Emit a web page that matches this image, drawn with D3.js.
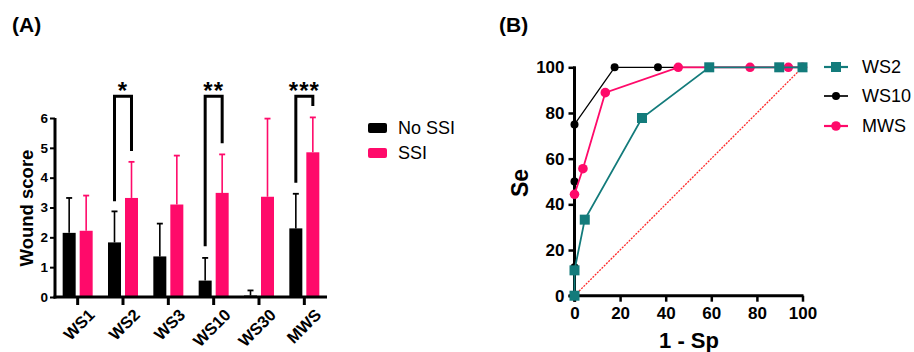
<!DOCTYPE html>
<html><head><meta charset="utf-8">
<script src="https://cdn.jsdelivr.net/npm/d3@7"></script>
<style>body{margin:0;background:#fff}svg{display:block;font-family:"Liberation Sans",Arial,sans-serif}</style>
</head><body><svg id="c" width="914" height="352"></svg>
<script>
// ---- Panel A data ----
const categories = ["WS1","WS2","WS3","WS10","WS30","MWS"];
const groups = ["No SSI","SSI"];
const noSsiMean = [2.15,1.83,1.36,0.55,0.05,2.30];
const noSsiSd   = [1.17,1.04,1.10,0.76,0.17,1.16];
const ssiMean   = [2.22,3.32,3.10,3.49,3.36,4.85];
const ssiSd     = [1.18,1.21,1.64,1.29,2.62,1.17];
const yTicksA   = [0,1,2,3,4,5,6];
const sigCats   = ["WS2","WS10","MWS"];
const sigLabels = ["*","**","***"];
const bracketLeft  = [3.21,1.70,3.83];
const bracketRight = [4.89,5.15,6.40];
const bracketTop   = 6.73;

// ---- Panel B data ----
const rocSeries = ["WS2","WS10","MWS"];
const ws2X  = [0,0,4.5,29.6,59.1,89.8,100];
const ws2Y  = [0,11.1,33.3,77.8,100,100,100];
const ws10X = [0,0,0,0,17.6,36.6,100];
const ws10Y = [0,12.5,50,75,100,100,100];
const mwsX  = [0,3.7,13.5,45.5,77,93.8,100];
const mwsY  = [44.4,55.6,88.9,100,100,100,100];
const rocTicks = [0,20,40,60,80,100];

const PINK = "#ff0a6a", TEAL = "#137b7b", BLACK = "#000";
const svg = d3.select("#c");
svg.append("rect").attr("width",914).attr("height",352).attr("fill","#fff");

// ================= Panel A =================
const x0 = d3.scaleBand().domain(categories).range([55,327]).padding(0);
const x1 = d3.scaleBand().domain(groups)
  .range([x0.bandwidth()/2-15, x0.bandwidth()/2+15]).paddingInner(0.235).paddingOuter(0);
const yA = d3.scaleLinear().domain([0,6]).range([297,118]);
const colorA = d3.scaleOrdinal().domain(groups).range([BLACK,PINK]);

svg.append("text").attr("x",12).attr("y",32).attr("font-size",21).attr("font-weight","bold").text("(A)");

const rows = categories.map((c,i)=>[
  {cat:c,g:"No SSI",m:noSsiMean[i],sd:noSsiSd[i]},
  {cat:c,g:"SSI",m:ssiMean[i],sd:ssiSd[i]}]).flat();

const gA = svg.append("g");
gA.selectAll("g.err").data(rows).join("g").each(function(d){
  const cx = x0(d.cat)+x1(d.g)+x1.bandwidth()/2;
  const g = d3.select(this);
  g.append("line").attr("x1",cx).attr("x2",cx).attr("y1",yA(d.m)).attr("y2",yA(d.m+d.sd))
    .attr("stroke",colorA(d.g)).attr("stroke-width",1.6);
  g.append("line").attr("x1",cx-3).attr("x2",cx+3).attr("y1",yA(d.m+d.sd)).attr("y2",yA(d.m+d.sd))
    .attr("stroke",colorA(d.g)).attr("stroke-width",1.8);
});
gA.selectAll("rect.bar").data(rows).join("rect")
  .attr("x",d=>x0(d.cat)+x1(d.g)).attr("width",x1.bandwidth())
  .attr("y",d=>yA(d.m)).attr("height",d=>yA(0)-yA(d.m))
  .attr("fill",d=>colorA(d.g));

const axYA = svg.append("g").attr("transform","translate(55,0)")
  .call(d3.axisLeft(yA).tickValues(yTicksA).tickFormat(d3.format("d")).tickSize(5).tickPadding(2));
axYA.select(".domain").attr("stroke-width",3).attr("d",`M0,${yA(6)}V${yA(0)+1.5}`);
axYA.selectAll(".tick line").attr("stroke-width",2);
axYA.selectAll(".tick text").attr("font-size",13.5).attr("font-weight","bold").attr("font-family","Liberation Sans, Arial, sans-serif");

const axXA = svg.append("g").attr("transform",`translate(0,${yA(0)})`)
  .call(d3.axisBottom(x0).tickSize(8).tickPadding(4));
axXA.select(".domain").attr("stroke-width",3).attr("d","M53.5,0H327");
axXA.selectAll(".tick line").attr("stroke-width",3);
axXA.selectAll(".tick text").attr("font-size",16.5).attr("font-weight","bold")
  .attr("font-family","Liberation Sans, Arial, sans-serif")
  .attr("text-anchor","end").attr("dy",null).attr("y",null)
  .attr("transform","translate(18,19) rotate(-45)");

svg.append("text").attr("transform","translate(33,208) rotate(-90)").attr("text-anchor","middle")
  .attr("font-size",18.5).attr("font-weight","bold").text("Wound score");

sigCats.forEach((c,i)=>{
  const xl = x0(c)+x1("No SSI")+x1.bandwidth()/2;
  const xr = x0(c)+x1("SSI")+x1.bandwidth()/2;
  svg.append("path").attr("fill","none").attr("stroke","#000").attr("stroke-width",3)
    .attr("d",`M${xl},${yA(bracketLeft[i])}V${yA(bracketTop)}H${xr}V${yA(bracketRight[i])}`);
  svg.append("text").attr("x",(xl+xr)/2).attr("y",99).attr("text-anchor","middle")
    .attr("font-size",24).attr("font-weight","bold").attr("letter-spacing",1).text(sigLabels[i]);
});

groups.forEach((g,i)=>{
  svg.append("rect").attr("x",368).attr("y",123+i*25).attr("width",19).attr("height",10).attr("rx",2)
    .attr("fill",colorA(g));
  svg.append("text").attr("x",398).attr("y",128+i*25).attr("dy","0.36em").attr("font-size",18).text(g);
});

// ================= Panel B =================
const xB = d3.scaleLinear().domain([0,100]).range([574.5,802.5]);
const yB = d3.scaleLinear().domain([0,100]).range([295.7,67.3]);

svg.append("text").attr("x",499).attr("y",32).attr("font-size",21).attr("font-weight","bold").text("(B)");

svg.append("line").attr("x1",xB(0)).attr("y1",yB(0)).attr("x2",xB(100)).attr("y2",yB(100))
  .attr("stroke","#ff2a2a").attr("stroke-width",1.3).attr("stroke-dasharray","2,1.2");

const axXB = svg.append("g").attr("transform",`translate(0,${yB(0)})`)
  .call(d3.axisBottom(xB).tickValues(rocTicks).tickSize(6).tickPadding(5));
axXB.select(".domain").attr("stroke-width",3).attr("d",`M${xB(0)-6},0H${xB(100)+1}`);
axXB.selectAll(".tick line").attr("stroke-width",2.5);
axXB.selectAll(".tick text").attr("font-size",17).attr("font-weight","bold").attr("font-family","Liberation Sans, Arial, sans-serif").attr("dy","0.71em");

const axYB = svg.append("g").attr("transform",`translate(${xB(0)},0)`)
  .call(d3.axisLeft(yB).tickValues(rocTicks).tickSize(6).tickPadding(4));
axYB.select(".domain").attr("stroke-width",3).attr("d",`M0,${yB(100)-1}V${yB(0)+6}`);
axYB.selectAll(".tick line").attr("stroke-width",2.5);
axYB.selectAll(".tick text").attr("font-size",17).attr("font-weight","bold").attr("font-family","Liberation Sans, Arial, sans-serif");

svg.append("text").attr("x",689).attr("y",348).attr("text-anchor","middle")
  .attr("font-size",22).attr("font-weight","bold").text("1 - Sp");
svg.append("text").attr("transform","translate(528,183) rotate(-90)").attr("text-anchor","middle")
  .attr("font-size",23).attr("font-weight","bold").text("Se");

const line = d3.line().x(d=>xB(d[0])).y(d=>yB(d[1]));
const series = [
  {name:"WS10",xs:ws10X,ys:ws10Y,color:BLACK,w:1.3,shape:"circle",r:4},
  {name:"MWS",xs:mwsX,ys:mwsY,color:PINK,w:1.8,shape:"circle",r:4.8},
  {name:"WS2",xs:ws2X,ys:ws2Y,color:TEAL,w:1.8,shape:"square",r:5}
];
series.forEach(s=>{
  const pts = s.xs.map((v,i)=>[v,s.ys[i]]);
  svg.append("path").datum(pts).attr("d",line).attr("fill","none").attr("stroke",s.color).attr("stroke-width",s.w);
  const g = svg.append("g");
  if(s.shape==="circle"){
    g.selectAll("circle").data(pts).join("circle").attr("cx",d=>xB(d[0])).attr("cy",d=>yB(d[1])).attr("r",s.r).attr("fill",s.color);
  } else {
    g.selectAll("rect").data(pts).join("rect").attr("x",d=>xB(d[0])-s.r).attr("y",d=>yB(d[1])-s.r)
      .attr("width",2*s.r).attr("height",2*s.r).attr("fill",s.color);
  }
});

const legY = [67,96,126];
rocSeries.forEach((n,i)=>{
  const s = series.find(t=>t.name===n);
  const y = legY[i];
  svg.append("line").attr("x1",824).attr("x2",848).attr("y1",y).attr("y2",y).attr("stroke",s.color).attr("stroke-width",s.w+0.4);
  if(s.shape==="circle") svg.append("circle").attr("cx",836).attr("cy",y).attr("r",s.r).attr("fill",s.color);
  else svg.append("rect").attr("x",836-s.r).attr("y",y-s.r).attr("width",2*s.r).attr("height",2*s.r).attr("fill",s.color);
  svg.append("text").attr("x",862).attr("y",y).attr("dy","0.36em").attr("font-size",18).text(n);
});
</script></body></html>
